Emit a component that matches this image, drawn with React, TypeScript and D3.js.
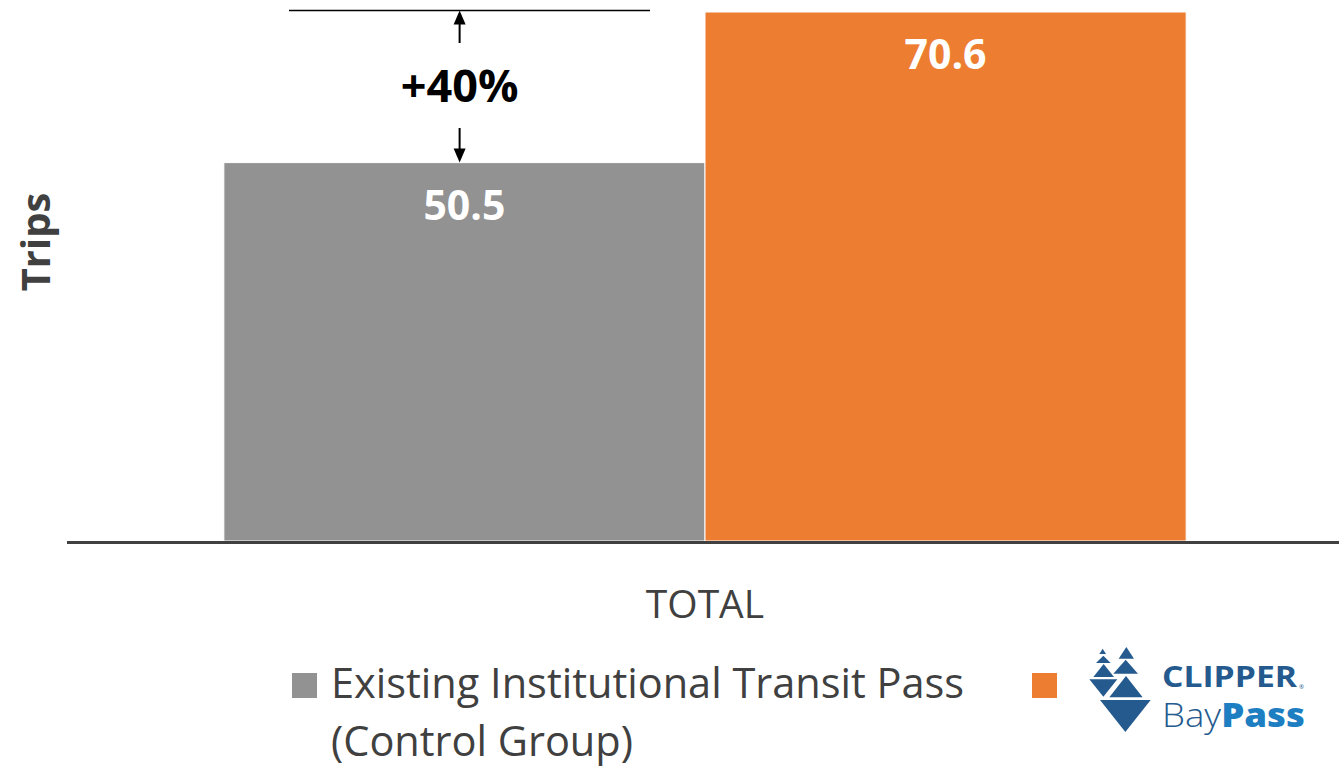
import React from "react";
import * as d3 from "d3";

const categories = ["TOTAL"];
const seriesNames = ["Existing Institutional Transit Pass (Control Group)", "Clipper BayPass"];
const legendLines = ["Existing Institutional Transit Pass", "(Control Group)"];
const seriesValues = [50.5, 70.6];
const seriesColors = ["#929292", "#ED7D31"];
const changeLabel = "+40%";
const axisTitle = "Trips";

const W = 1339;
const H = 767;
const baseY = 541;

export default function App() {
  const y = d3.scaleLinear().domain([0, 70.6]).range([baseY, 12]);
  const x0 = d3.scaleBand().domain(categories).range([67, 1343]).paddingOuter(0.163).paddingInner(0);
  const x1 = d3.scaleBand().domain(seriesNames).range([0, x0.bandwidth()]).padding(0);
  const cat = categories[0];
  const cx = (x0(cat) as number) + x0.bandwidth() / 2;
  const font = "'Open Sans', sans-serif";

  const gx = (x0(cat) as number) + (x1(seriesNames[0]) as number);
  const arrowX = gx + x1.bandwidth() * 0.49;
  const topY = y(seriesValues[1]) - 1.5;
  const lowY = y(seriesValues[0]);

  const blue = "#245A8E";
  const lightBlue = "#1D7EC2";
  const L = 1080, T = 640;
  const tri = (pts: number[][]) => pts.map((p) => `${L + p[0] / 3},${T + p[1] / 3}`).join(" ");

  return (
    <svg width={W} height={H} style={{ position: "absolute", left: 0, top: 0, background: "#fff" }}>
      {seriesNames.map((s, i) => {
        const bx = (x0(cat) as number) + (x1(s) as number);
        const by = y(seriesValues[i]);
        return (
          <g key={s}>
            <rect x={bx} y={by} width={x1.bandwidth()} height={baseY - by} fill={seriesColors[i]} stroke="#ffffff" strokeWidth={1} />
            <text x={bx + x1.bandwidth() / 2} y={by + 57} textAnchor="middle" fill="#ffffff" fontFamily={font} fontWeight={700} fontSize={41}>
              {seriesValues[i].toFixed(1)}
            </text>
          </g>
        );
      })}
      <line x1={67} x2={1339} y1={baseY + 1.5} y2={baseY + 1.5} stroke="#404040" strokeWidth={3} />

      {/* change annotation */}
      <line x1={289} x2={650} y1={topY} y2={topY} stroke="#000" strokeWidth={1.3} />
      <line x1={arrowX} x2={arrowX} y1={topY + 12} y2={43} stroke="#000" strokeWidth={2} />
      <polygon points={`${arrowX},${topY} ${arrowX - 6},${topY + 14} ${arrowX + 6},${topY + 14}`} fill="#000" />
      <line x1={arrowX} x2={arrowX} y1={128} y2={lowY - 12} stroke="#000" strokeWidth={2} />
      <polygon points={`${arrowX},${lowY} ${arrowX - 6},${lowY - 14} ${arrowX + 6},${lowY - 14}`} fill="#000" />
      <text x={arrowX} y={102} textAnchor="middle" fontFamily={font} fontWeight={700} fontSize={45} fill="#000">
        {changeLabel}
      </text>

      {/* axis title */}
      <text transform={`translate(50,242) rotate(-90)`} textAnchor="middle" fontFamily={font} fontWeight={700} fontSize={40} fill="#404040">
        {axisTitle}
      </text>
      <text x={cx} y={618} textAnchor="middle" fontFamily={font} fontSize={39} fill="#404040">
        {cat}
      </text>

      {/* legend */}
      <rect x={292} y={673} width={25} height={25} fill={seriesColors[0]} />
      <text x={331} y={698} fontFamily={font} fontSize={41.5} fill="#404040">
        {legendLines[0]}
      </text>
      <text x={331} y={756} fontFamily={font} fontSize={41.5} fill="#404040">
        {legendLines[1]}
      </text>
      <rect x={1032} y={673} width={25} height={25} fill={seriesColors[1]} />

      {/* Clipper BayPass logo */}
      <g fill={blue}>
        <polygon points={tri([[58, 42], [78, 42], [68, 26]])} />
        <polygon points={tri([[48, 69], [92, 69], [70, 47]])} />
        <polygon points={tri([[40, 111], [102, 111], [71, 72]])} />
        <polygon points={tri([[28, 118], [112, 118], [70, 170]])} />
        <polygon points={tri([[116, 56], [162, 56], [139, 21]])} />
        <polygon points={tri([[100, 101], [174, 101], [137, 59]])} />
        <polygon points={tri([[88, 172], [188, 172], [138, 108]])} />
        <polygon points={tri([[60, 180], [212, 180], [136, 276]])} />
      </g>
      <text x={1162} y={687} fontFamily={font} fontWeight={700} fontSize={28} fill={blue} textLength={135} lengthAdjust="spacingAndGlyphs">
        CLIPPER
      </text>
      <text x={1299} y={689} fontFamily={font} fontSize={6} fill={blue}>®</text>
      <text x={1162} y={727} fontFamily={font} fontSize={33} textLength={143} lengthAdjust="spacingAndGlyphs">
        <tspan fill={blue} fontWeight={300}>Bay</tspan>
        <tspan fill={lightBlue} fontWeight={800}>Pass</tspan>
      </text>
    </svg>
  );
}
